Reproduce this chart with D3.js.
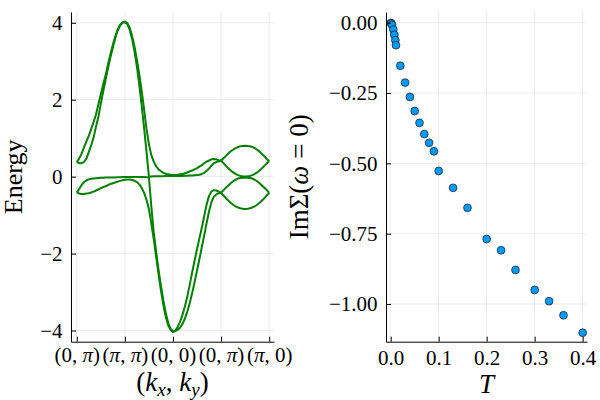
<!DOCTYPE html>
<html>
<head>
<meta charset="utf-8">
<script src="https://cdn.jsdelivr.net/npm/d3@7"></script>
<style>
    html, body { margin: 0; padding: 0; background: #fff; }
    svg text { fill: #000; }
</style>
</head>
<body>
<svg id="chart" width="600" height="400"></svg>
<script>

/* Band structure along (0,π) -> (π,π) -> (0,0) -> (0,π) -> (π,0) */
/* ************************************************************** */
var kPath = [
    0, 0.05, 0.1, 0.15, 0.2, 0.25, 0.3, 0.35, 0.4, 0.45, 0.5, 0.55, 0.6, 0.65, 0.7, 0.75, 0.8, 0.85, 0.9, 0.95, 1,
    1.05, 1.1, 1.15, 1.2, 1.25, 1.3, 1.35, 1.4, 1.45, 1.5, 1.55, 1.6, 1.65, 1.7, 1.75, 1.8, 1.85, 1.9, 1.95, 2,
    2.05, 2.1, 2.15, 2.2, 2.25, 2.3, 2.35, 2.4, 2.45, 2.5, 2.55, 2.6, 2.65, 2.7, 2.75, 2.8, 2.85, 2.9, 2.95, 3,
    3.05, 3.1, 3.15, 3.2, 3.25, 3.3, 3.35, 3.4, 3.45, 3.5, 3.55, 3.6, 3.65, 3.7, 3.75, 3.8, 3.85, 3.9, 3.95, 4
];

var band1 = [
    0.38, 0.47, 0.60, 0.76, 0.92, 1.06, 1.24, 1.42, 1.62, 1.88, 2.14, 2.40, 2.64, 2.92, 3.18, 3.43, 3.64, 3.82, 3.94, 4.01, 4.03,
    3.99, 3.87, 3.66, 3.38, 3.04, 2.66, 2.22, 1.74, 1.24, 0.84, 0.56, 0.39, 0.27, 0.19, 0.14, 0.10, 0.075, 0.06, 0.05, 0.045,
    0.045, 0.05, 0.06, 0.07, 0.09, 0.11, 0.14, 0.16, 0.19, 0.22, 0.26, 0.30, 0.35, 0.39, 0.42, 0.45, 0.46, 0.45, 0.43, 0.42,
    0.48, 0.54, 0.60, 0.66, 0.70, 0.74, 0.77, 0.79, 0.80, 0.805, 0.80, 0.79, 0.77, 0.74, 0.70, 0.65, 0.59, 0.53, 0.46, 0.40
];

var band2 = [
    0.38, 0.35, 0.35, 0.38, 0.47, 0.64, 0.82, 1.02, 1.30, 1.56, 1.90, 2.22, 2.52, 2.82, 3.10, 3.36, 3.60, 3.80, 3.93, 4.00, 4.01,
    3.97, 3.82, 3.58, 3.26, 2.86, 2.38, 1.84, 1.26, 0.64, 0.0, 0.005, 0.008, 0.01, 0.01, 0.012, 0.012, 0.014, 0.014, 0.015, 0.015,
    0.016, 0.018, 0.02, 0.02, 0.022, 0.025, 0.027, 0.03, 0.035, 0.04, 0.05, 0.07, 0.10, 0.15, 0.21, 0.29, 0.35, 0.38, 0.40, 0.42,
    0.35, 0.28, 0.22, 0.16, 0.11, 0.07, 0.04, 0.02, 0.01, 0.005, 0.01, 0.02, 0.04, 0.07, 0.11, 0.16, 0.22, 0.28, 0.34, 0.40
];

var band3 = [
    -0.41, -0.32, -0.22, -0.14, -0.10, -0.07, -0.055, -0.045, -0.04, -0.035, -0.03, -0.03, -0.025, -0.025, -0.02, -0.02, -0.02, -0.015, -0.015, -0.01, -0.01,
    -0.01, -0.01, -0.01, -0.01, -0.01, -0.01, -0.012, -0.012, -0.015, -0.02, -0.78, -1.45, -1.95, -2.42, -2.84, -3.22, -3.55, -3.80, -3.95, -4.02,
    -4.01, -3.98, -3.92, -3.82, -3.68, -3.50, -3.28, -3.02, -2.74, -2.44, -2.14, -1.83, -1.52, -1.20, -0.90, -0.66, -0.52, -0.46, -0.43, -0.42,
    -0.35, -0.29, -0.23, -0.17, -0.12, -0.08, -0.05, -0.035, -0.03, -0.03, -0.03, -0.035, -0.05, -0.08, -0.12, -0.17, -0.23, -0.29, -0.35, -0.42
];

var band4 = [
    -0.41, -0.44, -0.45, -0.45, -0.44, -0.43, -0.41, -0.39, -0.36, -0.33, -0.30, -0.27, -0.25, -0.22, -0.19, -0.17, -0.15, -0.13, -0.11, -0.095, -0.08,
    -0.075, -0.075, -0.085, -0.105, -0.14, -0.20, -0.29, -0.42, -0.60, -0.85, -1.22, -1.62, -2.08, -2.54, -2.96, -3.33, -3.64, -3.86, -3.99, -4.04,
    -4.00, -3.90, -3.76, -3.58, -3.36, -3.10, -2.80, -2.48, -2.18, -1.88, -1.60, -1.32, -1.02, -0.72, -0.50, -0.38, -0.35, -0.36, -0.39, -0.42,
    -0.49, -0.56, -0.62, -0.68, -0.73, -0.77, -0.80, -0.82, -0.835, -0.84, -0.835, -0.82, -0.80, -0.77, -0.73, -0.68, -0.62, -0.56, -0.49, -0.42
];

var kTicks = [0, 1, 2, 3, 4];
var kTickLabels = ['(0, π)', '(π, π)', '(0, 0)', '(0, π)', '(π, 0)'];
var energyTicks = [-4, -2, 0, 2, 4];

/* Im Σ(ω = 0) against temperature */
/* ******************************* */
var temperature = [0.0005, 0.001, 0.0028, 0.0055, 0.0075, 0.0097, 0.011, 0.02, 0.03, 0.04, 0.05, 0.06, 0.07,
    0.08, 0.09, 0.1, 0.13, 0.16, 0.2, 0.23, 0.26, 0.3, 0.33, 0.36, 0.4];
var imSigma = [-0.001, -0.003, -0.008, -0.024, -0.043, -0.062, -0.08, -0.153, -0.213, -0.264, -0.314, -0.356, -0.396,
    -0.427, -0.457, -0.527, -0.587, -0.658, -0.769, -0.809, -0.879, -0.950, -0.990, -1.040, -1.102];

var tTicks = [0, 0.1, 0.2, 0.3, 0.4];
var sigmaTicks = [0, -0.25, -0.5, -0.75, -1];


/* Layout */
/* ****** */
var serif = '"Liberation Serif", "DejaVu Serif", serif';
var plotTop = 12, plotBottom = 341.7;
var svg = d3.select('#chart');

var kScale = d3.scaleLinear().domain([-0.12, 4.1]).range([71, 274]);
var eScale = d3.scaleLinear().domain([-4.29, 4.28]).range([plotBottom, plotTop]);
var tScale = d3.scaleLinear().domain([-0.0098, 0.409]).range([386, 587]);
var sScale = d3.scaleLinear().domain([-1.134, 0.038]).range([plotBottom, plotTop]);

// Light grid at the tick positions
var drawGrid = function(xScale, xTicks, yScale, yTicks) {
    var g = svg.append('g')
        .attr('stroke', '#000')
        .attr('stroke-opacity', 0.1)
        .attr('stroke-width', 0.8);
    g.selectAll('line.vx')
        .data(xTicks)
        .enter()
        .append('line')
        .attr('x1', function (d) { return xScale(d); })
        .attr('x2', function (d) { return xScale(d); })
        .attr('y1', plotTop)
        .attr('y2', plotBottom);
    g.selectAll('line.hy')
        .data(yTicks)
        .enter()
        .append('line')
        .attr('x1', xScale.range()[0])
        .attr('x2', xScale.range()[1])
        .attr('y1', function (d) { return yScale(d); })
        .attr('y2', function (d) { return yScale(d); });
};

// Axes with inward ticks, styled like the reference
var drawAxes = function(xScale, xTicks, xFormat, xPad, yScale, yTicks, yFormat) {
    var gx = svg.append('g')
        .attr('transform', 'translate(0,' + plotBottom + ')')
        .call(d3.axisBottom(xScale)
            .tickValues(xTicks)
            .tickSize(-5)
            .tickSizeOuter(0)
            .tickPadding(xPad)
            .tickFormat(xFormat));
    var gy = svg.append('g')
        .attr('transform', 'translate(' + xScale.range()[0] + ',0)')
        .call(d3.axisLeft(yScale)
            .tickValues(yTicks)
            .tickSize(-5)
            .tickSizeOuter(0)
            .tickPadding(8.5)
            .tickFormat(yFormat));
    [gx, gy].forEach(function (g) {
        g.attr('font-family', serif).attr('font-size', 21);
    });
    return gx;
};

// Italic π inside tick labels
var mathText = function(sel, str) {
    sel.text(null);
    str.split(/(π)/).forEach(function (part) {
        if (part === '') return;
        sel.append('tspan')
            .attr('font-style', part === 'π' ? 'italic' : null)
            .text(part);
    });
};


/* Left panel: bands */
/* ***************** */
drawGrid(kScale, kTicks, eScale, energyTicks);

var bandLine = d3.line()
    .x(function (d, i) { return kScale(kPath[i]); })
    .y(function (d) { return eScale(d); });

svg.append('g')
    .selectAll('path')
    .data([band1, band2, band3, band4])
    .enter()
    .append('path')
    .attr('d', bandLine)
    .attr('fill', 'none')
    .attr('stroke', '#008000')
    .attr('stroke-width', 2)
    .attr('stroke-linejoin', 'round');

var kAxis = drawAxes(kScale, kTicks, function (d, i) { return kTickLabels[i]; }, 5.4,
    eScale, energyTicks, d3.format('d'));
kAxis.selectAll('.tick text').each(function (d, i) {
    mathText(d3.select(this), kTickLabels[i]);
});

svg.append('text')
    .attr('transform', 'translate(22,' + (plotTop + plotBottom) / 2 + ') rotate(-90)')
    .attr('text-anchor', 'middle')
    .attr('font-family', serif)
    .attr('font-size', 26)
    .text('Energy');

var kLabel = svg.append('text')
    .attr('x', 172.5)
    .attr('y', 391)
    .attr('text-anchor', 'middle')
    .attr('font-family', serif)
    .attr('font-size', 27);
kLabel.append('tspan').text('(');
kLabel.append('tspan').attr('font-style', 'italic').text('k');
kLabel.append('tspan').attr('font-style', 'italic').attr('font-size', 19).attr('dy', 5).text('x');
kLabel.append('tspan').attr('dy', -5).text(', ');
kLabel.append('tspan').attr('font-style', 'italic').text('k');
kLabel.append('tspan').attr('font-style', 'italic').attr('font-size', 19).attr('dy', 5).text('y');
kLabel.append('tspan').attr('dy', -5).text(')');


/* Right panel: scatter */
/* ******************** */
drawGrid(tScale, tTicks, sScale, sigmaTicks);

svg.append('g')
    .selectAll('circle')
    .data(temperature)
    .enter()
    .append('circle')
    .attr('cx', function (d) { return tScale(d); })
    .attr('cy', function (d, i) { return sScale(imSigma[i]); })
    .attr('r', 3.9)
    .attr('fill', '#009afa')
    .attr('stroke', '#1a1a1a')
    .attr('stroke-width', 0.7);

drawAxes(tScale, tTicks, d3.format('.1f'), 8.4, sScale, sigmaTicks, d3.format('.2f'));

var sLabel = svg.append('text')
    .attr('transform', 'translate(308,' + (plotTop + plotBottom) / 2 + ') rotate(-90)')
    .attr('text-anchor', 'middle')
    .attr('font-family', serif)
    .attr('font-size', 27);
sLabel.append('tspan').text('ImΣ(');
sLabel.append('tspan').attr('font-style', 'italic').text('ω');
sLabel.append('tspan').text(' = 0)');

svg.append('text')
    .attr('x', 486.5)
    .attr('y', 393)
    .attr('text-anchor', 'middle')
    .attr('font-family', serif)
    .attr('font-size', 27)
    .attr('font-style', 'italic')
    .text('T');

</script>
</body>
</html>
